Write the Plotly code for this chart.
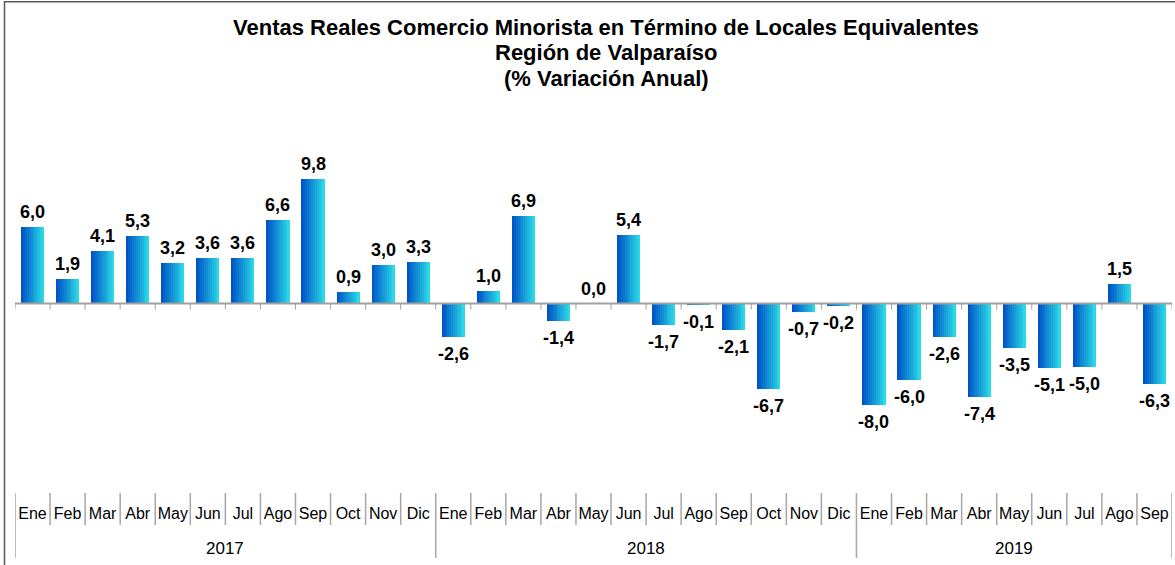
import plotly.graph_objects as go

# ---------------- data ----------------
months = ["Ene", "Feb", "Mar", "Abr", "May", "Jun", "Jul", "Ago", "Sep", "Oct", "Nov", "Dic"]
years = ["2017", "2018", "2019"]
values_2017 = [6.0, 1.9, 4.1, 5.3, 3.2, 3.6, 3.6, 6.6, 9.8, 0.9, 3.0, 3.3]
values_2018 = [-2.6, 1.0, 6.9, -1.4, 0.0, 5.4, -1.7, -0.1, -2.1, -6.7, -0.7, -0.2]
values_2019 = [-8.0, -6.0, -2.6, -7.4, -3.5, -5.1, -5.0, 1.5, -6.3]
title_lines = ["Ventas Reales Comercio Minorista en Término de Locales Equivalentes",
               "Región de Valparaíso",
               "(% Variación Anual)"]

groups = [values_2017, values_2018, values_2019]
values = values_2017 + values_2018 + values_2019
tick_labels = [months[i] for g in groups for i in range(len(g))]
x = list(range(len(values)))

# ---------------- layout geometry (pixels) ----------------
W, H = 1175, 565
L, R, T = 15, 3, 100
PLOT_BOTTOM = 493
B = H - PLOT_BOTTOM
PH = PLOT_BOTTOM - T
PW = W - L - R
ZERO_PX = 303.5
PX_PER_UNIT = 12.7
y_top = (ZERO_PX - T) / PX_PER_UNIT
y_bot = -(PLOT_BOTTOM - ZERO_PX) / PX_PER_UNIT


def py(p):  # pixel y -> paper y
    return (PLOT_BOTTOM - p) / PH


def px(p):  # pixel x -> paper x
    return (p - L) / PW


fig = go.Figure()

# gradient bars made of thin overlaid slices
N = 12
BW = 0.66
c0 = (0, 84, 200)
c1 = (42, 216, 230)
for i in range(N):
    t = i / (N - 1)
    col = "rgb(%d,%d,%d)" % tuple(round(a + (b - a) * t) for a, b in zip(c0, c1))
    sw = BW / N
    fig.add_bar(
        x=x, y=values,
        offset=-BW / 2 + i * sw,
        width=sw * (1.25 if i < N - 1 else 1.0),
        marker=dict(color=col, line=dict(width=0)),
        hoverinfo="skip", showlegend=False,
    )

shapes = []
AX_COL = "#A0A0A0"
# zero line
shapes.append(dict(type="line", xref="x", yref="y", x0=-0.5, x1=len(values) - 0.5, y0=0, y1=0,
                   line=dict(color=AX_COL, width=2), layer="above"))
# ticks on zero line
for k in range(len(values) + 1):
    shapes.append(dict(type="line", xref="x", yref="y", x0=k - 0.5, x1=k - 0.5, y0=0,
                       y1=-6 / PX_PER_UNIT, line=dict(color=AX_COL, width=1), layer="above"))

# separators in the category label area
year_bounds = [-0.5]
acc = 0
for g in groups:
    acc += len(g)
    year_bounds.append(acc - 0.5)
SEP_COL = "#A6A6A6"
for k in range(len(values) + 1):
    b = k - 0.5
    long = b in year_bounds
    shapes.append(dict(type="line", xref="x", yref="paper", x0=b, x1=b, y0=py(493),
                       y1=py(558 if long else 525), line=dict(color=SEP_COL, width=1.5)))

# chart frame
shapes.append(dict(type="rect", xref="paper", yref="paper", x0=px(4.5), x1=px(1190),
                   y0=py(1.7), y1=py(580), line=dict(color="#595959", width=1.5),
                   fillcolor="rgba(0,0,0,0)"))

annotations = []
# data labels
for xi, v in zip(x, values):
    annotations.append(dict(
        x=xi, y=v, xref="x", yref="y", showarrow=False,
        text=("%.1f" % v).replace(".", ","),
        yanchor="bottom" if v >= 0 else "top",
        yshift=3 if v >= 0 else -5,
        font=dict(family="Liberation Sans, Arial, sans-serif", size=18, color="black", weight="bold"),
    ))
# year labels
start = 0
for yr, g in zip(years, groups):
    annotations.append(dict(
        x=start + (len(g) - 1) / 2, y=py(548), xref="x", yref="paper", showarrow=False,
        text=yr, yanchor="middle",
        font=dict(family="Liberation Sans, Arial, sans-serif", size=17, color="black"),
    ))
    start += len(g)
# title
for line, ypx in zip(title_lines, [28, 52, 78]):
    annotations.append(dict(
        x=px(606), y=py(ypx), xref="paper", yref="paper", showarrow=False,
        text=line, yanchor="middle", xanchor="center",
        font=dict(family="Liberation Sans, Arial, sans-serif", size=22, color="black", weight="bold"),
    ))

fig.update_layout(
    width=W, height=H,
    margin=dict(l=L, r=R, t=T, b=B, pad=0),
    paper_bgcolor="white", plot_bgcolor="white",
    barmode="overlay", bargap=0,
    showlegend=False,
    shapes=shapes, annotations=annotations,
    xaxis=dict(range=[-0.5, len(values) - 0.5], tickmode="array", tickvals=x, ticktext=tick_labels,
               showgrid=False, showline=False, zeroline=False, ticks="",
               tickfont=dict(family="Liberation Sans, Arial, sans-serif", size=16, color="black"),
               ticklabelstandoff=9, fixedrange=True),
    yaxis=dict(range=[y_bot, y_top], visible=False, showgrid=False, zeroline=False, fixedrange=True),
)

fig.write_html("out.html", config={"displayModeBar": False},
               post_script="document.body.style.margin='0';document.body.style.overflow='hidden';")
